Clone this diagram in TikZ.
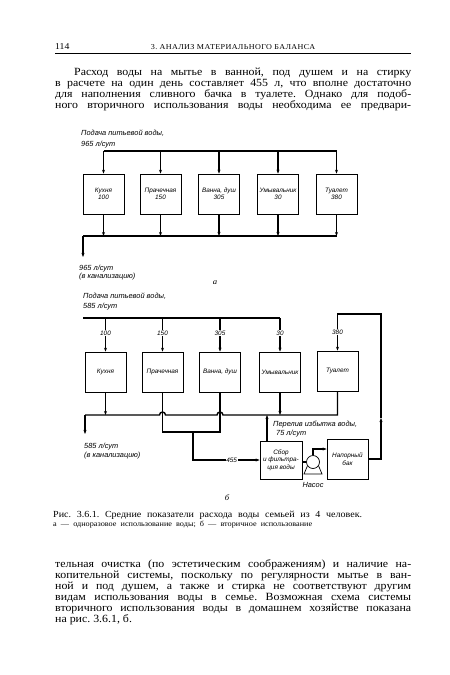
\documentclass[tikz,border=0pt]{standalone}
\usepackage{fontspec}
\setmainfont{Liberation Serif}[FakeStretch=1.08]
\newfontfamily\dlabfont{Liberation Sans}
\usetikzlibrary{arrows.meta,calc}
\newcommand\dlab{\dlabfont\itshape\fontsize{6.4}{7.4}\selectfont}
\newcommand\dlabb{\dlabfont\itshape\fontsize{7.4}{8}\selectfont}
\newcommand\txtsize{\fontsize{11}{13}\selectfont}
\frenchspacing
\begin{document}
\begin{tikzpicture}[x=1pt,y=-1pt,
  box/.style={draw,line width=0.7pt,minimum width=41pt,minimum height=40pt,inner sep=0.5pt,align=center,font=\dlab},
  pipe/.style={line width=1.4pt},
  flow/.style={pipe,-{Stealth[length=4pt,width=3pt]}},
  num/.style={fill=white,inner sep=0.6pt,font=\dlab},
  lab/.style={font=\dlabb,inner sep=0,anchor=base west},
  txt/.style={inner sep=0,anchor=base west,font=\txtsize}]
\useasboundingbox (0,0) rectangle (450,675);

% header
\node[inner sep=0,anchor=base west,font=\fontsize{9}{10}\selectfont] (pg) at (55,49) {114};
\node[inner sep=0,anchor=base,font=\fontsize{7.5}{9}\selectfont\addfontfeature{LetterSpace=5}] (hd) at (233,49) {3. АНАЛИЗ МАТЕРИАЛЬНОГО БАЛАНСА};
\coordinate (r1) at (55,53.5); \coordinate (r2) at (411,53.5);
\draw[line width=0.8pt] (r1) -- (r2);

% top paragraph
\node[txt] (t1) at (74,75.5) {\makebox[337pt][s]{Расход воды на мытье в ванной, под душем и на стирку}};
\node[txt] (t2) at (55,86.5) {\makebox[356pt][s]{в расчете на один день составляет 455 л, что вполне достаточно}};
\node[txt] (t3) at (55,97.5) {\makebox[356pt][s]{для наполнения сливного бачка в туалете. Однако для подоб-}};
\node[txt] (t4) at (55,108.5) {\makebox[356pt][s]{ного вторичного использования воды необходима ее предвари-}};

% ---------- diagram a ----------
\node[lab] (la1) at (81,135) {Подача питьевой воды,};
\node[lab] (la2) at (81,146) {965 л/сут};
\node[box] (ka) at (103.5,194) {Кухня\\100};
\node[box] (pa) at (160.5,194) {Прачечная\\150};
\node[box] (va) at (219,194) {Ванна, душ\\305};
\node[box] (ua) at (278,194) {Умывальник\\30};
\node[box] (ta) at (336.5,194) {Туалет\\380};
\coordinate (abus) at (0,151);
\draw[pipe] (ka.north |- abus) -- (ta.north |- abus);
\foreach \n in {ka,pa,va,ua,ta} \draw[flow] (\n.north |- abus) -- (\n.north);
\coordinate (abot) at (0,236);
\coordinate (aL) at (83,236);
\coordinate (aout) at (83,257);
\draw[pipe] (aL) -- (ta.south |- abot);
\foreach \n in {ka,pa,va,ua,ta} \draw[flow] (\n.south) -- (\n.south |- abot);
\draw[flow] (aL) -- (aout);
\node[lab] (la3) at (79,270) {965 л/сут};
\node[lab] (la4) at (79,278) {(в канализацию)};
\node[inner sep=0,anchor=base,font=\itshape\fontsize{8}{9}\selectfont] (fa) at (215,284) {а};

% ---------- diagram b ----------
\node[lab] (lb1) at (83,298) {Подача питьевой воды,};
\node[lab] (lb2) at (83,308) {585 л/сут};
\node[box] (kb) at (105.5,372) {Кухня};
\node[box] (pb) at (162.5,372) {Прачечная};
\node[box] (vb) at (220,372) {Ванна, душ};
\node[box] (ub) at (280,372) {Умывальник};
\node[box] (tb) at (337.5,371) {Туалет};
\coordinate (bL) at (83,318);
\draw[pipe] (bL) -- (ub.north |- bL);
\draw[flow] (kb.north |- bL) -- node[num,pos=0.44]{100} (kb.north);
\draw[flow] (pb.north |- bL) -- node[num,pos=0.44]{150} (pb.north);
\draw[flow] (vb.north |- bL) -- node[num,pos=0.44]{305} (vb.north);
\draw[flow] (ub.north |- bL) -- node[num,pos=0.44]{30} (ub.north);

% lower equipment
\node[box,minimum width=42pt,minimum height=38pt,inner sep=0.3pt] (fb) at (281,460) {Сбор\\и фильтра-\\ция воды};
\node[circle,draw,line width=0.7pt,minimum size=13pt,inner sep=0] (pump) at (313,462) {};
\draw[line width=0.7pt] (pump.215) -- (304,474) -- (322,474) -- (pump.325);
\node[lab,anchor=base] (lpump) at (313,487) {Насос};
\node[box,minimum width=41pt,minimum height=40pt] (tank) at (347.5,459) {Напорный\\бак};

% toilet feed loop
\coordinate (tk) at (381,314);
\coordinate (tkm) at (381,418);
\draw[flow] (tank.east) -- (tank.east -| tk) -- (tkm);
\draw[flow] (tkm) -- (tk) -- (tb.north |- tk) -- node[num,pos=0.5]{380} (tb.north);

% pump lines
\coordinate (tin) at (0,449);
\draw[pipe] (fb.east |- pump.west) -- (pump.west);
\draw[flow] (pump.north) -- (pump.north |- tin) -- (tank.west |- tin);

% sewer line with hops
\coordinate (bs) at (0,415);
\coordinate (sL) at (85,415);
\coordinate (sOut) at (85,434);
\draw[pipe] (tb.south) -- (tb.south |- bs)
  -- ($(vb.south |- bs)+(3,0)$) arc[start angle=0,end angle=180,radius=3pt]
  -- ($(pb.south |- bs)+(3,0)$) arc[start angle=0,end angle=180,radius=3pt]
  -- (sL);
\draw[flow] (sL) -- (sOut);
\draw[flow] (kb.south) -- (kb.south |- bs);
\draw[flow] (ub.south) -- (ub.south |- bs);
\coordinate (ov) at (267,415);
\draw[flow] (fb.north -| ov) -- (ov);
\node[lab] (lov1) at (273,426) {Перелив избытка воды,};
\node[lab] (lov2) at (276,435) {75 л/сут};
\node[lab] (lb3) at (84,448) {585 л/сут};
\node[lab] (lb4) at (84,457) {(в канализацию)};

% collector from laundry and bath
\coordinate (cy) at (0,432);
\coordinate (cm) at (193,432);
\draw[pipe] (pb.south) -- (pb.south |- cy) -- (vb.south |- cy) -- (vb.south);
\draw[flow] (cm) -- (cm |- fb.west) -- node[num,pos=0.58]{455} (fb.west);

\node[inner sep=0,anchor=base,font=\itshape\fontsize{8}{9}\selectfont] (fbl) at (227,500) {б};

% caption
\node[inner sep=0,anchor=base west,font=\fontsize{9.3}{10}\selectfont] (c1) at (53,517) {\makebox[309pt][s]{Рис. 3.6.1. Средние показатели расхода воды семьей из 4 человек.}};
\node[inner sep=0,anchor=base west,font=\fontsize{7.6}{8}\selectfont] (c2) at (53,526) {\makebox[259pt][s]{а — одноразовое использование воды; б — вторичное использование}};

% bottom paragraph
\node[txt] (b1) at (55,567.5) {\makebox[356pt][s]{тельная очистка (по эстетическим соображениям) и наличие на-}};
\node[txt] (b2) at (55,578.5) {\makebox[356pt][s]{копительной системы, поскольку по регулярности мытье в ван-}};
\node[txt] (b3) at (55,589.5) {\makebox[356pt][s]{ной и под душем, а также и стирка не соответствуют другим}};
\node[txt] (b4) at (55,600.5) {\makebox[356pt][s]{видам использования воды в семье. Возможная схема системы}};
\node[txt] (b5) at (55,611) {\makebox[356pt][s]{вторичного использования воды в домашнем хозяйстве показана}};
\node[txt] (b6) at (55,622) {на рис. 3.6.1, б.};
\end{tikzpicture}
\end{document}
